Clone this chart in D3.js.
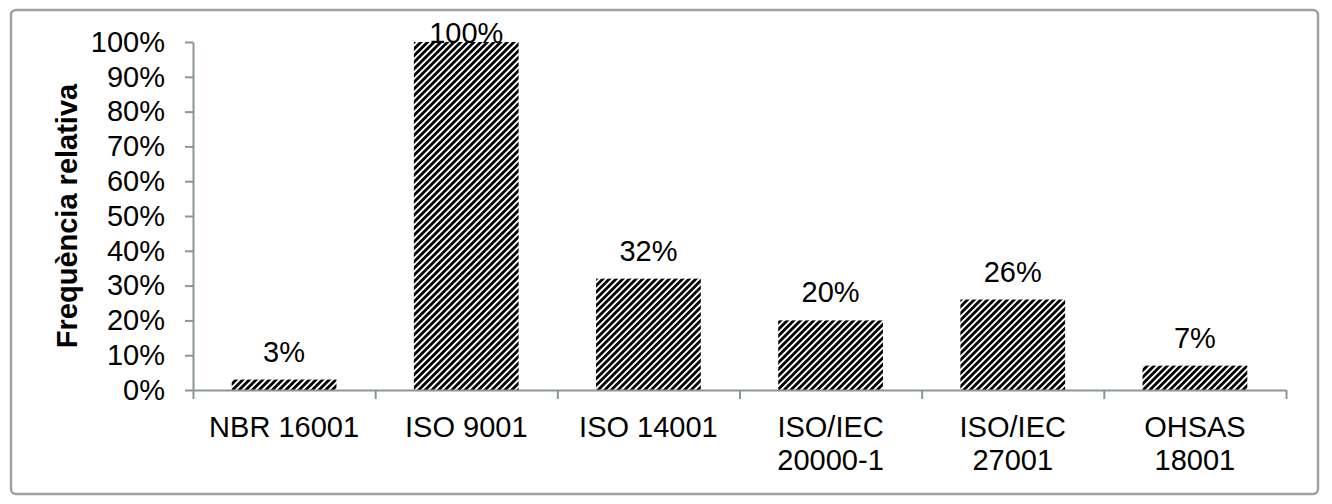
<!DOCTYPE html>
<html>
<head>
<meta charset="utf-8">
<script src="https://cdn.jsdelivr.net/npm/d3@7"></script>
<style>
  body { margin: 0; background: #fff; }
  svg { display: block; font-family: Arial, "Liberation Sans", sans-serif; }
  .axis path, .axis line { stroke: #8b9794; stroke-width: 2; }
  .axis text { fill: #000; font-size: 29px; }
</style>
</head>
<body>
<svg id="chart" width="1332" height="504"></svg>
<script>
var categories = [["NBR 16001"], ["ISO 9001"], ["ISO 14001"], ["ISO/IEC", "20000-1"], ["ISO/IEC", "27001"], ["OHSAS", "18001"]];
var values = [0.03, 1.00, 0.32, 0.20, 0.26, 0.07];
var yTicks = [0, 0.1, 0.2, 0.3, 0.4, 0.5, 0.6, 0.7, 0.8, 0.9, 1.0];
var yTitle = "Frequència relativa";

var svg = d3.select("#chart"),
    margin = {top: 42, right: 46, bottom: 114, left: 193},
    width = 1332 - margin.left - margin.right,
    height = 504 - margin.top - margin.bottom;

// outer frame
svg.append("rect")
    .attr("x", 11).attr("y", 10)
    .attr("width", 1307).attr("height", 484)
    .attr("rx", 5)
    .attr("fill", "#fff")
    .attr("stroke", "#9aa3a1")
    .attr("stroke-width", 2.5);

// hatch pattern
var defs = svg.append("defs");
defs.append("pattern")
    .attr("id", "hatch")
    .attr("patternUnits", "userSpaceOnUse")
    .attr("width", 4.7).attr("height", 10)
    .attr("patternTransform", "rotate(45)")
  .append("rect")
    .attr("width", 2.8).attr("height", 10)
    .attr("fill", "#000");

var g = svg.append("g").attr("transform", "translate(" + margin.left + "," + margin.top + ")");

var keys = categories.map(function(c) { return c.join(" "); });

var xScale = d3.scaleBand().domain(keys).range([0, width]).paddingInner(0.425).paddingOuter(0.2125),
    xEdges = d3.scaleLinear().domain([0, keys.length]).range([0, width]),
    yScale = d3.scaleLinear().domain([0, 1]).range([height, 0]);

// y axis
g.append("g")
    .attr("class", "axis axis--y")
    .call(d3.axisLeft(yScale).tickValues(yTicks).tickFormat(d3.format(".0%")).tickSize(8).tickPadding(20).tickSizeOuter(0));

// bars
g.selectAll(".bar")
  .data(values)
  .enter().append("rect")
    .attr("class", "bar")
    .attr("x", function(d, i) { return xScale(keys[i]); })
    .attr("y", function(d) { return yScale(d); })
    .attr("width", xScale.bandwidth())
    .attr("height", function(d) { return height - yScale(d); })
    .attr("fill", "url(#hatch)");

// x axis: ticks at category edges
g.append("g")
    .attr("class", "axis axis--x")
    .attr("transform", "translate(0," + height + ")")
    .call(d3.axisBottom(xEdges).tickValues(d3.range(keys.length + 1)).tickFormat("").tickSize(9).tickSizeOuter(0));

// category labels
var labels = g.append("g")
    .attr("transform", "translate(0," + height + ")")
  .selectAll(".cat")
  .data(categories)
  .enter().append("text")
    .attr("class", "cat")
    .attr("text-anchor", "middle")
    .attr("font-size", 29)
    .attr("x", function(d, i) { return xScale(keys[i]) + xScale.bandwidth() / 2; })
    .attr("y", 47);

labels.selectAll("tspan")
  .data(function(d) { return d; })
  .enter().append("tspan")
    .attr("x", function() { return d3.select(this.parentNode).attr("x"); })
    .attr("dy", function(d, i) { return i ? 33 : 0; })
    .text(function(d) { return d; });

// value labels
g.selectAll(".val")
  .data(values)
  .enter().append("text")
    .attr("class", "val")
    .attr("text-anchor", "middle")
    .attr("font-size", 29)
    .attr("x", function(d, i) { return xScale(keys[i]) + xScale.bandwidth() / 2; })
    .attr("y", function(d) { return Math.max(yScale(d) - 18, yScale(1) + 1); })
    .text(function(d) { return d3.format(".0%")(d); });

// y title
svg.append("text")
    .attr("transform", "translate(77," + (margin.top + height / 2) + ") rotate(-90)")
    .attr("text-anchor", "middle")
    .attr("font-size", 29)
    .attr("font-weight", "bold")
    .text(yTitle);
</script>
</body>
</html>
